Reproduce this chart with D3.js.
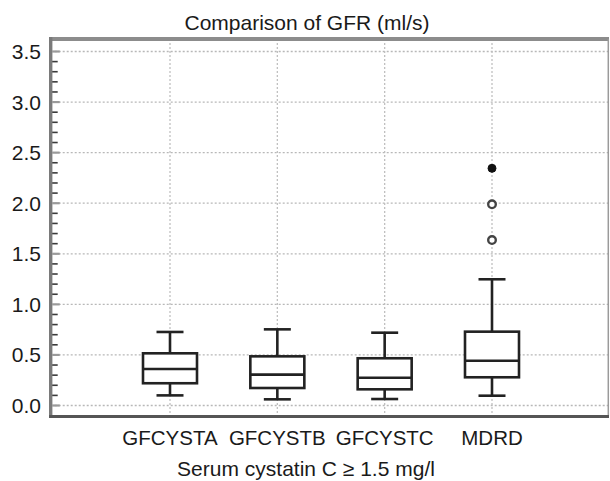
<!DOCTYPE html>
<html>
<head>
<meta charset="utf-8">
<script src="https://cdn.jsdelivr.net/npm/d3@7"></script>
<style>
  html, body { margin: 0; padding: 0; background: #fff; }
  svg { display: block; }
  text { font-family: "Liberation Sans", Arial, Helvetica, sans-serif; fill: #1a1a1a; }
</style>
</head>
<body>
<script>
// ---- data ----
const categories = ["GFCYSTA", "GFCYSTB", "GFCYSTC", "MDRD"];
const whiskerLow  = [0.10, 0.061, 0.064, 0.097];
const q1Values    = [0.22, 0.173, 0.16, 0.279];
const medians     = [0.361, 0.305, 0.275, 0.443];
const q3Values    = [0.516, 0.486, 0.467, 0.73];
const whiskerHigh = [0.727, 0.753, 0.72, 1.248];
const outlierCategory = ["MDRD", "MDRD", "MDRD"];
const outlierValues   = [2.345, 1.989, 1.636];
const outlierFar      = [true, false, false];
const yTicks = [0.0, 0.5, 1.0, 1.5, 2.0, 2.5, 3.0, 3.5];
const yMinorTicks = d3.range(0, 36).map(i => i / 10);
const titleText = "Comparison of GFR (ml/s)";
const xAxisTitle = "Serum cystatin C \u2265 1.5 mg/l";

// ---- layout ----
const W = 610, H = 481;
const plot = { left: 50.7, right: 608.3, top: 39, bottom: 416.5 };

const svg = d3.select("body").append("svg").attr("width", W).attr("height", H);

const y = d3.scaleLinear().domain([0, 3.5]).range([405.5, 51.5]);
const x = d3.scalePoint().domain(categories).range([170, 492]);

const boxes = categories.map((c, i) => ({
  cat: c, lo: whiskerLow[i], q1: q1Values[i], med: medians[i], q3: q3Values[i], hi: whiskerHigh[i]
}));

// gridlines
const grid = svg.append("g");
grid.selectAll("line.h").data(yTicks).join("line")
  .attr("x1", plot.left).attr("x2", plot.right)
  .attr("y1", d => y(d)).attr("y2", d => y(d))
  .attr("stroke", "#b8b8b8").attr("stroke-width", 1.3).attr("stroke-dasharray", "2,2");
grid.selectAll("line.v").data(categories).join("line")
  .attr("x1", d => x(d)).attr("x2", d => x(d))
  .attr("y1", plot.top).attr("y2", plot.bottom)
  .attr("stroke", "#c0c0c0").attr("stroke-width", 1.3).attr("stroke-dasharray", "2,2");

// frame
svg.append("line").attr("x1", plot.left - 1.5).attr("x2", plot.right + 0.7)
  .attr("y1", plot.top).attr("y2", plot.top)
  .attr("stroke", "#8c8c8c").attr("stroke-width", 4);
svg.append("line").attr("x1", plot.right).attr("x2", plot.right)
  .attr("y1", plot.top).attr("y2", plot.bottom)
  .attr("stroke", "#9a9a9a").attr("stroke-width", 1.5);
svg.append("line").attr("x1", plot.left).attr("x2", plot.left)
  .attr("y1", plot.top - 2).attr("y2", plot.bottom + 1.5)
  .attr("stroke", "#7a7a7a").attr("stroke-width", 3.4);
svg.append("line").attr("x1", plot.left - 1.5).attr("x2", plot.right + 0.7)
  .attr("y1", plot.bottom).attr("y2", plot.bottom)
  .attr("stroke", "#555").attr("stroke-width", 3);

// ticks on left axis (inward)
svg.append("g").selectAll("line").data(yMinorTicks.filter(v => Math.round(v * 10) % 5 !== 0)).join("line")
  .attr("x1", plot.left + 1.5).attr("x2", plot.left + 7)
  .attr("y1", d => y(d)).attr("y2", d => y(d))
  .attr("stroke", "#3a3a3a").attr("stroke-width", 1.6);
svg.append("g").selectAll("line").data(yTicks).join("line")
  .attr("x1", plot.left + 1.5).attr("x2", plot.left + 9)
  .attr("y1", d => y(d)).attr("y2", d => y(d))
  .attr("stroke", "#9a9a9a").attr("stroke-width", 2.2);

// y tick labels
svg.append("g").selectAll("text").data(yTicks).join("text")
  .attr("x", 41).attr("y", d => y(d)).attr("dy", "0.36em")
  .attr("text-anchor", "end").attr("font-size", "21px")
  .text(d => d3.format(".1f")(d));

// boxes
const boxW = 54, capW = 27, stroke = "#222", sw = 2.6;
const g = svg.append("g").selectAll("g").data(boxes).join("g");
g.append("line").attr("x1", d => x(d.cat)).attr("x2", d => x(d.cat))
  .attr("y1", d => y(d.hi)).attr("y2", d => y(d.q3))
  .attr("stroke", stroke).attr("stroke-width", sw);
g.append("line").attr("x1", d => x(d.cat)).attr("x2", d => x(d.cat))
  .attr("y1", d => y(d.q1)).attr("y2", d => y(d.lo))
  .attr("stroke", stroke).attr("stroke-width", sw);
g.append("line").attr("x1", d => x(d.cat) - capW / 2).attr("x2", d => x(d.cat) + capW / 2)
  .attr("y1", d => y(d.hi)).attr("y2", d => y(d.hi))
  .attr("stroke", stroke).attr("stroke-width", sw);
g.append("line").attr("x1", d => x(d.cat) - capW / 2).attr("x2", d => x(d.cat) + capW / 2)
  .attr("y1", d => y(d.lo)).attr("y2", d => y(d.lo))
  .attr("stroke", stroke).attr("stroke-width", sw);
g.append("rect").attr("x", d => x(d.cat) - boxW / 2).attr("width", boxW)
  .attr("y", d => y(d.q3)).attr("height", d => y(d.q1) - y(d.q3))
  .attr("fill", "#fff").attr("stroke", stroke).attr("stroke-width", sw);
g.append("line").attr("x1", d => x(d.cat) - boxW / 2).attr("x2", d => x(d.cat) + boxW / 2)
  .attr("y1", d => y(d.med)).attr("y2", d => y(d.med))
  .attr("stroke", stroke).attr("stroke-width", sw);

// outliers
const outliers = outlierValues.map((v, i) => ({ cat: outlierCategory[i], v, far: outlierFar[i] }));
svg.append("g").selectAll("circle").data(outliers).join("circle")
  .attr("cx", d => x(d.cat)).attr("cy", d => y(d.v))
  .attr("r", d => d.far ? 4 : 3.8)
  .attr("fill", d => d.far ? "#111" : "#fff")
  .attr("stroke", d => d.far ? "#111" : "#444")
  .attr("stroke-width", d => d.far ? 1 : 2.4);

// x category labels
svg.append("g").selectAll("text").data(categories).join("text")
  .attr("x", d => x(d)).attr("y", 445)
  .attr("text-anchor", "middle").attr("font-size", "20.5px")
  .text(d => d);

// titles
svg.append("text").attr("x", 307).attr("y", 29.5)
  .attr("text-anchor", "middle").attr("font-size", "21px").text(titleText);
svg.append("text").attr("x", 306).attr("y", 475.5)
  .attr("text-anchor", "middle").attr("font-size", "21px").text(xAxisTitle);
</script>
</body>
</html>
